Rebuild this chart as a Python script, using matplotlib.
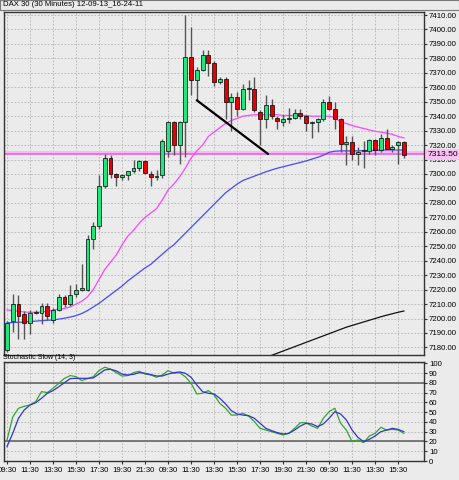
import matplotlib
matplotlib.use('Agg')
import matplotlib.pyplot as plt
from matplotlib.patches import Rectangle
import numpy as np

plt.rcParams['font.family'] = ['Liberation Sans', 'DejaVu Sans']

# ---------------- data ----------------
opens = [7178, 7198, 7210, 7203, 7197, 7204, 7204, 7209, 7199, 7206,
         7215, 7210, 7217, 7220, 7220, 7255, 7264, 7292, 7311, 7300,
         7298, 7299, 7302, 7304, 7309, 7300, 7298, 7299, 7316, 7336,
         7320, 7336, 7381, 7365, 7372, 7382, 7377, 7364, 7366, 7350,
         7353, 7345, 7359, 7359, 7343, 7338, 7348, 7339, 7336, 7338,
         7339, 7342, 7340, 7335.5, 7336, 7338, 7350, 7345, 7338, 7321,
         7322, 7313.5, 7316, 7316, 7323.5, 7316.5, 7325, 7317.5, 7320, 7322]
highs = [7198, 7217, 7216, 7205, 7206, 7206, 7211, 7211, 7207, 7217,
         7216, 7223, 7224, 7238, 7258, 7267, 7299, 7314, 7313, 7301,
         7300, 7302, 7310, 7310, 7310, 7302, 7303, 7324, 7337, 7337,
         7337, 7410, 7402, 7374, 7386, 7386, 7378, 7367, 7367, 7356,
         7357, 7362, 7365, 7367, 7344, 7355, 7352, 7340, 7341, 7346,
         7345, 7345, 7341, 7337, 7339, 7352, 7354, 7350, 7339, 7326,
         7326, 7319, 7323, 7324, 7324, 7328, 7331, 7320, 7323, 7323]
lows = [7177, 7191, 7186, 7186, 7189, 7203, 7196, 7199, 7197, 7205,
        7208, 7209, 7215, 7219, 7219, 7248, 7262, 7290, 7297, 7292,
        7296, 7296, 7301, 7302, 7300, 7292, 7296, 7297, 7312, 7313,
        7307, 7312, 7355, 7351, 7371, 7368, 7361, 7362, 7338, 7330,
        7340, 7344, 7351, 7343, 7320, 7332, 7338, 7331, 7333, 7335,
        7338, 7338, 7330, 7325, 7329, 7337, 7344, 7331, 7315, 7306,
        7310, 7306, 7304, 7314, 7313, 7315, 7317, 7315, 7307, 7311]
closes = [7197, 7210, 7202, 7197, 7204, 7204.6, 7209, 7202, 7206, 7215,
          7210, 7216, 7220, 7221, 7255, 7264, 7292, 7311, 7300, 7298,
          7299, 7302, 7304, 7309, 7301, 7298, 7298.6, 7323, 7336, 7320,
          7336, 7381, 7365, 7372, 7382, 7377, 7364, 7366, 7350, 7353,
          7345, 7359, 7359.6, 7344, 7338, 7348, 7340, 7337, 7338, 7338.6,
          7342, 7340, 7335, 7336, 7338, 7350, 7345, 7338, 7321, 7322,
          7313.5, 7315, 7316.6, 7323.5, 7316.5, 7325, 7317.5, 7319, 7322, 7313]

ma_fast = [7206, 7205.5, 7205, 7204.5, 7204.3, 7204.3, 7204.5, 7205, 7205.8, 7206.5,
           7207, 7208, 7210, 7212, 7215, 7220, 7227, 7234, 7239, 7244,
           7251, 7257, 7261, 7266, 7270, 7273, 7276, 7282, 7289, 7293,
           7298, 7304, 7311, 7316, 7320, 7326, 7329, 7332, 7335, 7337,
           7338.5, 7340, 7340.5, 7341, 7341, 7341, 7341, 7341, 7340.5, 7340.5,
           7340.5, 7340.5, 7340.5, 7340, 7340, 7340, 7340, 7339, 7336, 7335,
           7333.5, 7332.5, 7331.5, 7330.5, 7329.5, 7329, 7328.3, 7327.5, 7326, 7325]
ma_slow = [7197, 7197.2, 7197.4, 7197.6, 7197.9, 7198.2, 7198.5, 7198.8, 7199, 7199.6,
           7200.2, 7201, 7202, 7203.5, 7205.5, 7208, 7210.5, 7213.5, 7216.5, 7219.5,
           7222.5, 7226, 7229, 7232, 7235, 7237.5, 7241, 7244.5, 7248, 7251,
           7255, 7259, 7263, 7267, 7271, 7275, 7279, 7283, 7287, 7290,
           7293, 7295.5, 7297, 7298.5, 7300, 7301.5, 7302.8, 7304, 7305, 7306,
           7307, 7308, 7309, 7310.3, 7311.5, 7313, 7315, 7315.8, 7316, 7316,
           7316, 7316, 7316.2, 7316.3, 7316.4, 7316.5, 7316.6, 7316.6, 7316.6, 7316.6]
ma_long_start = 46
ma_long = [7174.5, 7176, 7177.5, 7179, 7180.5, 7182, 7183.5, 7185, 7186.5, 7188,
           7189.5, 7191, 7192.5, 7194, 7195.2, 7196.4, 7197.6, 7198.8, 7200, 7201.2,
           7202.3, 7203.3, 7204.3, 7205.2]

stoch_k = [21.5, 45, 54, 56, 57.3, 60.8, 71, 70, 74.4, 79.5,
           84.6, 87.4, 86.3, 82.3, 84.3, 86.3, 92.5, 96, 94, 90.4,
           87, 87.4, 90.4, 91.8, 89, 88, 85.7, 88, 92.5, 89.8,
           90.4, 86.3, 79.5, 68.6, 69.3, 72, 67.6, 59, 54, 47,
           47, 48.8, 46, 40.3, 33.4, 31.7, 30, 28.3, 26.6, 28.3,
           33.4, 39.2, 39.2, 35.8, 33.4, 43.7, 50.5, 54, 38.6, 31.7,
           19.8, 21.5, 18.8, 25.6, 28.3, 34.5, 31.7, 32.4, 31.7, 28.3]
stoch_d = [14.7, 28.3, 43.7, 52.2, 57.3, 59.7, 64.2, 69.3, 72, 76,
           80.2, 84.3, 84.6, 84.6, 84.6, 85, 89, 93.2, 93.9, 92.2,
           89, 88, 88.7, 90.4, 89.8, 88.4, 87, 87, 89, 90.4,
           91.1, 89.8, 85.7, 77.8, 71, 69.3, 68.6, 64.2, 58.4, 51.5,
           48.1, 47, 46.4, 43.7, 38.6, 33.4, 31.1, 29, 27.7, 28.3,
           31.7, 35.8, 38.6, 37.9, 35.2, 37.9, 43.7, 50.5, 48.1, 42,
           31.7, 24.2, 19.8, 22.2, 25.6, 30, 31.7, 33.4, 32.4, 30]

time_labels = ['09:30', '11:30', '13:30', '15:30', '17:30', '19:30', '21:30',
               '09:30', '11:30', '13:30', '15:30', '17:30', '19:30', '21:30',
               '09:30', '11:30', '13:30', '15:30']
price_ticks = list(range(7180, 7411, 10))
stoch_ticks = list(range(0, 101, 10))
level_price = 7313.5
trend_x = [33, 45.4]
trend_y = [7351, 7313.8]
title = 'DAX 30 (30 Minutes) 12-09-13_16-24-11'
stoch_title = 'Stochastic Slow (14, 3)'

# ---------------- figure ----------------
W, H = 460, 480
BG = '#ebebeb'
fig = plt.figure(figsize=(W / 100, H / 100), dpi=100, facecolor=BG)

def fx(px):
    return px / W

def fy(py):
    return 1 - py / H

FS = 5.6
grid_kw = dict(color='#b4b4b4', lw=0.6, ls=(0, (2, 2)))

ax = fig.add_axes([fx(4), fy(354.5), fx(420), (354.5 - 11.7) / H], facecolor=BG)
st = fig.add_axes([fx(4), fy(461), fx(420), (461 - 362.3) / H], facecolor=BG)

n = len(opens)
idx = np.arange(n)
o = np.array(opens, float)
c = np.array(closes, float)
hi = np.array(highs, float)
lo = np.array(lows, float)

# level band
ax.axhspan(level_price, level_price + 2.4, color='#fbb8f2', lw=0, zorder=1.5)
ax.axhline(level_price, color='#e55ae0', lw=1.1, zorder=1.6)

# moving averages
ax.plot(idx, ma_fast, color='#ff44ff', lw=0.9, zorder=2)
ax.plot(idx, ma_slow, color='#4848ff', lw=0.9, zorder=2)
ax.plot(np.arange(ma_long_start, ma_long_start + len(ma_long)), ma_long,
        color='#111111', lw=0.9, zorder=2)

# candles
ax.vlines(idx, lo, hi, color='#555555', lw=1.0, zorder=3)
body_bottom = np.minimum(o, c)
body_h = np.maximum(np.abs(c - o), 0.6)
colors = np.where(c >= o, '#1ee87c', '#e80000')
ax.bar(idx, body_h, bottom=body_bottom, width=0.68, color=colors,
       edgecolor='black', lw=0.5, zorder=4)

# trend line
ax.plot(trend_x, trend_y, color='black', lw=1.6, zorder=5, solid_capstyle='round')

ax.set_xlim(-0.52, 72.5)
ax.set_ylim(7175.1, 7412.3)
ax.yaxis.tick_right()
ax.set_yticks(price_ticks)
ax.set_yticklabels(['%.2f' % v for v in price_ticks], fontsize=FS)
ax.set_xticks(range(0, n, 4))
ax.set_xticklabels([])
ax.tick_params(axis='y', length=2, pad=1.5, color='#333333')
ax.tick_params(axis='x', length=0)
ax.grid(True, **grid_kw)
ax.set_axisbelow(True)
for s in ax.spines.values():
    s.set_color('#333333')
    s.set_linewidth(1.0)

ax.annotate('%.2f' % level_price, xy=(1, level_price), xycoords=('axes fraction', 'data'),
            xytext=(2.4, 0), textcoords='offset points', va='center', ha='left',
            fontsize=FS + 0.5, annotation_clip=False, zorder=10,
            bbox=dict(boxstyle='square,pad=0.2', fc='#fbc0f4', ec='none'))

# stochastic
st.axhline(80, color='#666666', lw=1.2, zorder=2)
st.axhline(20, color='#666666', lw=1.2, zorder=2)
st.plot(idx, stoch_k, color='#2ea82e', lw=0.9, zorder=3)
st.plot(idx, stoch_d, color='#3535c8', lw=0.9, zorder=3)
st.set_xlim(-0.52, 72.5)
st.set_ylim(0, 101)
st.yaxis.tick_right()
st.set_yticks(stoch_ticks)
st.set_yticklabels([str(v) for v in stoch_ticks], fontsize=FS)
st.set_xticks(range(0, n, 4))
st.set_xticklabels(time_labels, fontsize=FS)
st.tick_params(axis='y', length=2, pad=1.5, color='#333333')
st.tick_params(axis='x', length=2, pad=2.5, color='#333333')
st.grid(True, **grid_kw)
st.set_axisbelow(True)
for s in st.spines.values():
    s.set_color('#333333')
    s.set_linewidth(1.0)

# titles
fig.patches.append(Rectangle((0, fy(10)), fx(459), 10 / H, transform=fig.transFigure,
                             fc=BG, ec='#7a7a7a', lw=0.8))
fig.text(fx(3.5), fy(5.0), title, fontsize=5.6, va='center', ha='left')
fig.text(fx(3.5), fy(357.6), stoch_title, fontsize=5.0, va='center', ha='left')

fig.savefig('out.png', dpi=100, facecolor=BG)
